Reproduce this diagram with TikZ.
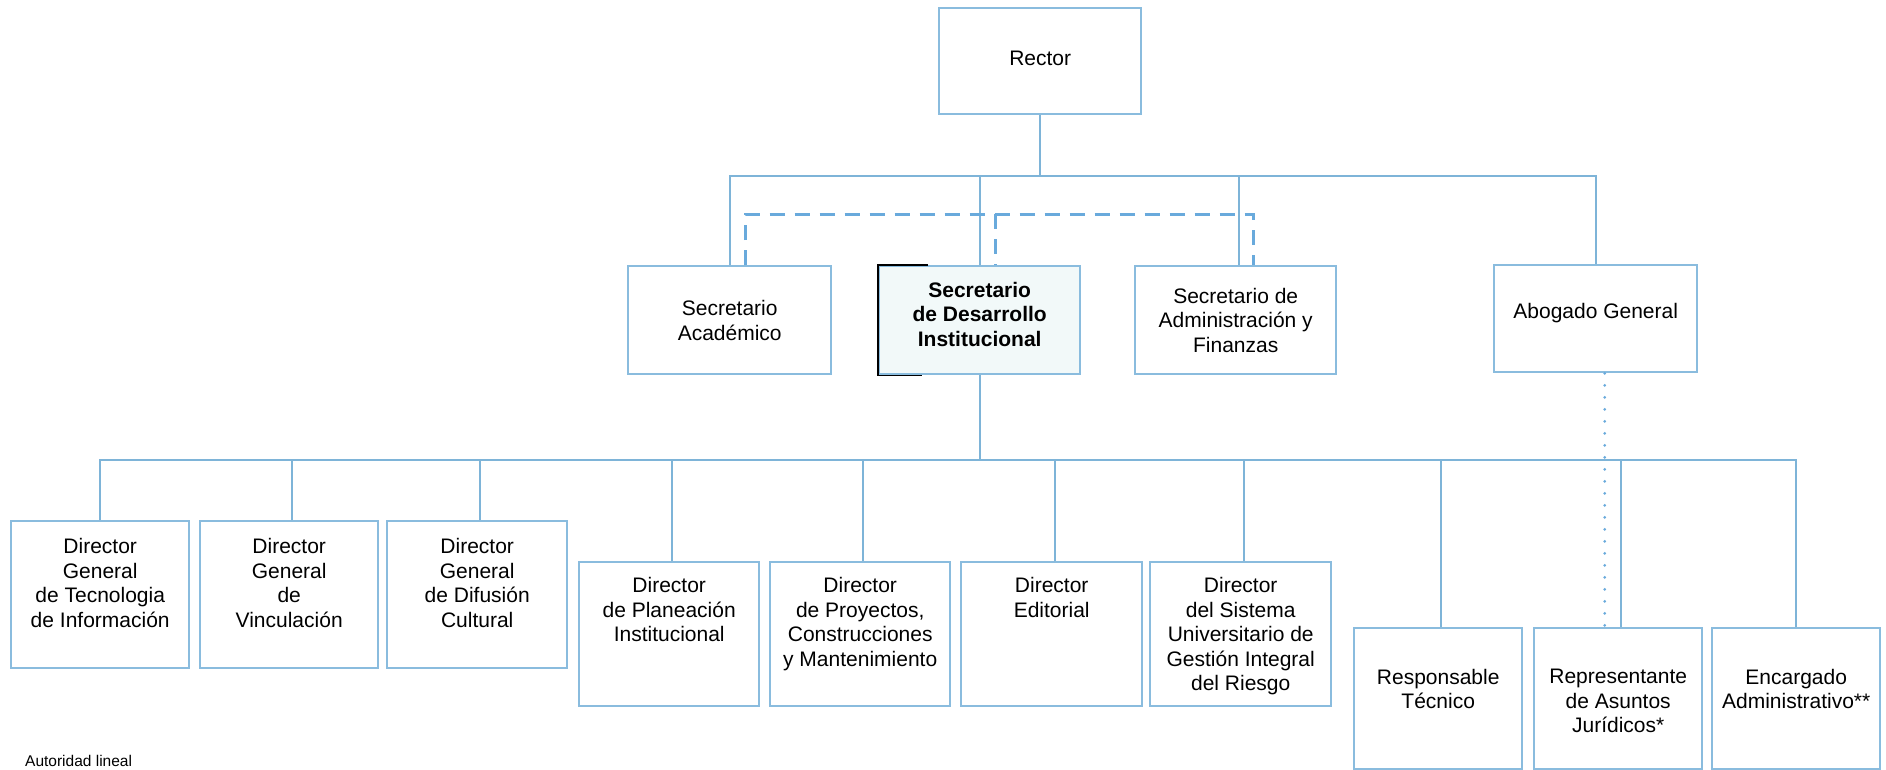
\documentclass[tikz,border=0pt]{standalone}
\usepackage{fontspec}
\setmainfont{Liberation Sans}
\definecolor{boxblue}{RGB}{138,188,222}
\definecolor{lineblue}{RGB}{126,180,216}
\definecolor{dashblue}{RGB}{105,170,220}
\definecolor{dsfill}{RGB}{242,249,249}
\newcommand\bxt[4]{\parbox[c][#1pt][t]{#2pt}{\centering\vspace*{#3pt}#4\par}}
\begin{document}
\begin{tikzpicture}[x=1pt,y=-1pt,
  orgbox/.style={draw=boxblue,line width=2.4pt,fill=white,inner sep=0pt,anchor=north west,font=\fontsize{21}{24.5}\selectfont},
  conn/.style={draw=lineblue,line width=2.4pt},
  dashline/.style={draw=dashblue,line width=3pt,dash pattern=on 15pt off 10pt},
  dotline/.style={draw=dashblue,line width=3pt,line cap=round,dash pattern=on 0pt off 12pt}]
\useasboundingbox (0,0) rectangle (1886,770);
\fill[white] (0,0) rectangle (1886,770);
\coordinate (bus1) at (0,176);
\coordinate (dl) at (0,214);
\coordinate (bus2) at (0,460);
% first levels
\node[orgbox] (rec) at (938,7) {\bxt{106}{202}{42.5}{Rector}};
\node[orgbox] (sa) at (627,265) {\bxt{108}{203}{34.5}{Secretario\\Académico}};
\node[orgbox,fill=dsfill] (ds) at (878,265) {\bxt{108}{201}{16}{\bfseries Secretario\\de Desarrollo\\Institucional}};
\node[orgbox] (sf) at (1134,265) {\bxt{108}{201}{22}{Secretario de\\Administración y\\Finanzas}};
\node[orgbox] (ab) at (1493,264) {\bxt{107}{203}{38.5}{Abogado General}};
% bottom level
\node[orgbox] (b1) at (10,520) {\bxt{147}{178}{17.5}{Director\\General\\de Tecnologia\\de Información}};
\node[orgbox] (b2) at (199,520) {\bxt{147}{178}{17.5}{Director\\General\\de\\Vinculación}};
\node[orgbox] (b3) at (386,520) {\bxt{147}{180}{17.5}{Director\\General\\de Difusión\\Cultural}};
\node[orgbox] (b4) at (578,561) {\bxt{144}{180}{15.5}{Director\\de Planeación\\Institucional}};
\node[orgbox] (b5) at (769,561) {\bxt{144}{180}{15.5}{Director\\de Proyectos,\\Construcciones\\y Mantenimiento}};
\node[orgbox] (b6) at (960,561) {\bxt{144}{181}{15.5}{Director\\Editorial}};
\node[orgbox] (b7) at (1149,561) {\bxt{144}{181}{15.5}{Director\\del Sistema\\Universitario de\\Gestión Integral\\del Riesgo}};
\node[orgbox] (b8) at (1353,627) {\bxt{141}{168}{41}{Responsable\\Técnico}};
\node[orgbox] (b9) at (1533,627) {\bxt{141}{168}{41}{Representante\\de Asuntos\\Jurídicos*}};
\node[orgbox] (b10) at (1711,627) {\bxt{141}{168}{41}{Encargado\\Administrativo**}};
% black marks on the highlighted box
\draw[black,line width=1.6pt] ([xshift=50pt]ds.north west) -- (ds.north west) -- (ds.south west) -- ([xshift=44pt]ds.south west);
% solid connectors
\draw[conn] (rec.south) -- (rec.south |- bus1);
\draw[conn] (sa.north) -- (sa.north |- bus1) -- (ab.north |- bus1) -- (ab.north);
\draw[conn] (ds.north) -- (ds.north |- bus1);
\draw[conn] ([xshift=3pt]sf.north) -- ([xshift=3pt]sf.north |- bus1);
\draw[conn] (ds.south) -- (ds.south |- bus2);
\draw[conn] (b1.north) -- (b1.north |- bus2) -- (b10.north |- bus2) -- (b10.north);
\foreach \b in {b2,b3,b4,b5,b6,b7,b8,b9}{
  \draw[conn] ([xshift=3pt]\b.north) -- ([xshift=3pt]\b.north |- bus2);
}
% dashed staff links
\draw[dashline] ([xshift=16pt]sa.north) -- ([xshift=16pt]sa.north |- dl) -- ([xshift=18pt]sf.north |- dl) -- ([xshift=18pt]sf.north);
\draw[dashline] ([xshift=16pt]ds.north |- dl) -- ([xshift=16pt]ds.north);
% dotted link
\draw[dotline] ([xshift=9pt]ab.south) -- ([xshift=9pt]ab.south |- b9.north);
% legend
\node[anchor=base west,inner sep=0pt,font=\fontsize{15.5}{18}\selectfont] (leg) at (25,766) {Autoridad lineal};
\end{tikzpicture}
\end{document}
